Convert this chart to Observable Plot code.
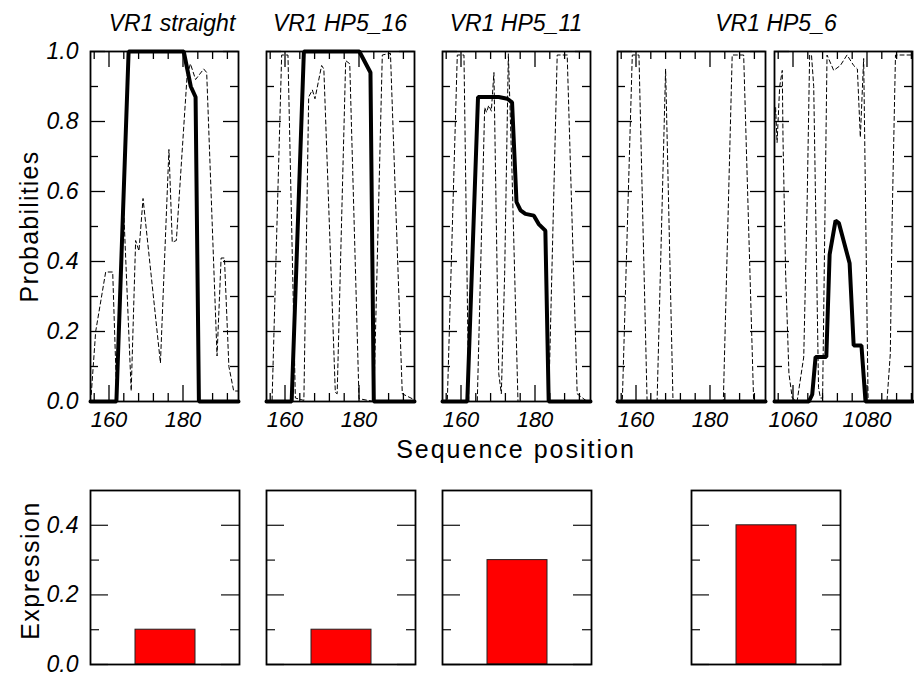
<!DOCTYPE html>
<html><head><meta charset="utf-8">
<script src="https://cdn.jsdelivr.net/npm/d3@7"></script>
<script src="https://cdn.jsdelivr.net/npm/@observablehq/plot@0.6"></script>
<style>
body{margin:0;background:#fff;}
#fig{position:relative;width:914px;height:675px;overflow:hidden;background:#fff;font-family:"Liberation Sans",Arial,sans-serif;}
#fig svg{position:absolute;}
.lbl{position:absolute;white-space:nowrap;color:#000;line-height:1;}
</style></head><body><div id="fig"></div>
<script>
// ---------------- data ----------------
const panelTitles = ["VR1 straight", "VR1 HP5_16", "VR1 HP5_11", "VR1 HP5_6"];
const xDomains = [[155, 195], [155, 195], [155, 195], [155, 195], [1055, 1092.3]];
const xMajorTicks = [[160, 180], [160, 180], [160, 180], [160, 180], [1060, 1080]];
const xMinorTicks = [
  [156, 164, 168, 172, 176, 184, 188, 192],
  [156, 164, 168, 172, 176, 184, 188, 192],
  [156, 164, 168, 172, 176, 184, 188, 192],
  [156, 164, 168, 172, 176, 184, 188, 192],
  [1056, 1064, 1068, 1072, 1076, 1084, 1088, 1092]
];
const probMajorTicks = [0, 0.2, 0.4, 0.6, 0.8, 1.0];
const probMinorTicks = [0.1, 0.3, 0.5, 0.7, 0.9];

// panel 1: VR1 straight
const p1ThickPos  = [155, 162, 165.3, 180.2, 182.1, 183.4, 184.3, 195];
const p1ThickProb = [0, 0, 1, 1, 0.9, 0.87, 0, 0];
const p1DashPos  = [155.2, 156.4, 159.1, 161.0, 162.0, 164.0, 166.0, 167.2, 168.1, 169.2, 173.9, 176.2, 177.1, 178.2, 181.1, 182.0, 183.4, 185.6, 186.4, 189.2, 190.3, 191.2, 192.4, 193.7, 195.0];
const p1DashProb = [0.02, 0.20, 0.37, 0.37, 0.04, 0.54, 0.03, 0.46, 0.43, 0.58, 0.11, 0.72, 0.455, 0.46, 0.93, 0.965, 0.92, 0.95, 0.94, 0.13, 0.41, 0.41, 0.10, 0.03, 0.03];

// panel 2: VR1 HP5_16
const p2ThickPos  = [155, 161.8, 165.1, 180.1, 183.1, 184.0, 195];
const p2ThickProb = [0, 0, 1, 1, 0.94, 0, 0];
const p2DashPos  = [155, 156.5, 159.1, 160.8, 162.8, 165.1, 166.4, 167.4, 168.1, 169.9, 170.5, 173.6, 174.1, 176.4, 177.5, 180.0, 184.0, 186.3, 188.5, 191.7, 194.4, 195];
const p2DashProb = [0, 0, 0.99, 0.99, 0.01, 0.003, 0.87, 0.89, 0.865, 0.96, 0.95, 0.026, 0.022, 0.974, 0.965, 0.008, 0, 0.99, 0.995, 0.022, 0.008, 0.008];

// panel 3: VR1 HP5_11
const p3ThickPos  = [155, 161.7, 164.6, 170.2, 172.5, 173.8, 175.0, 176.1, 177.4, 179.7, 181.0, 182.8, 183.7, 195];
const p3ThickProb = [0, 0, 0.87, 0.87, 0.865, 0.855, 0.57, 0.546, 0.536, 0.531, 0.507, 0.488, 0, 0];
const p3DashPos  = [155, 156.3, 159.0, 160.8, 162.1, 164.4, 166.4, 166.9, 167.5, 168.2, 168.9, 170.2, 170.9, 171.8, 172.8, 173.8, 175.4, 183.7, 186.0, 188.7, 191.4, 194.1, 195];
const p3DashProb = [0, 0, 0.99, 0.99, 0, 0, 0.84, 0.826, 0.846, 0.83, 0.94, 0.08, 0.022, 0.365, 0.993, 0.65, 0, 0, 0.99, 0.99, 0.022, 0, 0];

// panel 4: VR1 HP5_6 (first window)
const p4ThickPos  = [155, 195];
const p4ThickProb = [0, 0];
const p4DashPos  = [155, 156.3, 159.0, 160.8, 163.0, 165.7, 168.0, 170.0, 183.6, 186.0, 189.1, 191.8, 195];
const p4DashProb = [0, 0, 0.99, 0.99, 0, 0, 0.95, 0, 0, 0.99, 0.99, 0, 0];

// panel 5: VR1 HP5_6 (second window)
const p5ThickPos  = [1055, 1064.3, 1065.2, 1066.1, 1069.0, 1069.9, 1071.5, 1072.4, 1075.3, 1076.4, 1078.5, 1079.6, 1092.3];
const p5ThickProb = [0, 0, 0.02, 0.127, 0.127, 0.42, 0.517, 0.51, 0.395, 0.16, 0.16, 0, 0];
const p5DashPos  = [1055.0, 1055.3, 1055.7, 1056.4, 1057.1, 1057.3, 1058.0, 1058.9, 1059.8, 1061.1, 1062.9, 1063.8, 1064.5, 1065.0, 1065.6, 1066.9, 1067.4, 1068.0, 1069.2, 1071.0, 1072.8, 1074.6, 1076.4, 1077.4, 1078.2, 1079.1, 1080.3, 1085.4, 1086.3, 1086.8, 1087.7, 1092.3];
const p5DashProb = [0.80, 0.84, 0.74, 0.90, 0.946, 0.75, 0.37, 0.08, 0.01, 0.0, 0.127, 0.555, 0.99, 0.99, 0.9, 0.04, 0.01, 0.01, 0.99, 0.946, 0.96, 0.99, 0.96, 0.95, 0.755, 0.98, 0.0, 0.0, 0.136, 0.52, 0.99, 0.99];

// expression bars
const exprCategories = ["VR1 straight", "VR1 HP5_16", "VR1 HP5_11", "VR1 HP5_6"];
const exprValues = [0.1, 0.1, 0.3, 0.4];
const exprMajorTicks = [0, 0.2, 0.4];
const exprMinorTicks = [0.1, 0.3];

// ---------------- layout ----------------
const fig = document.getElementById("fig");
const M = 45;
const topLefts = [90, 266, 442, 617, 774];
const topWidths = [148, 148, 148, 148, 138];
const topY = 51, topH = 350;
const botLefts = [90, 266, 442, 691];
const botW = 149, botY = 490, botH = 174;
const tickFont = 23;

const thick = [[p1ThickPos, p1ThickProb], [p2ThickPos, p2ThickProb], [p3ThickPos, p3ThickProb], [p4ThickPos, p4ThickProb], [p5ThickPos, p5ThickProb]];
const dashed = [[p1DashPos, p1DashProb], [p2DashPos, p2DashProb], [p3DashPos, p3DashProb], [p4DashPos, p4DashProb], [p5DashPos, p5DashProb]];
const zip = ([a, b]) => a.map((v, i) => ({pos: v, p: b[i]}));
const svgStyle = {background: "none", overflow: "visible", fontFamily: "'Liberation Sans', Arial, sans-serif", fontStyle: "italic", color: "#000"};

function place(svg, left, top) {
  svg.style.left = (left - M) + "px";
  svg.style.top = (top - M) + "px";
  fig.appendChild(svg);
}

for (let i = 0; i < 5; i++) {
  const w = topWidths[i], h = topH;
  const marks = [
    Plot.line(zip(dashed[i]), {x: "pos", y: "p", stroke: "#000", strokeWidth: 1, strokeDasharray: "4,3", clip: true}),
    Plot.line(zip(thick[i]), {x: "pos", y: "p", stroke: "#000", strokeWidth: 4, strokeLinejoin: "miter"}),
    Plot.tickY(probMajorTicks, {y: d => d, insetRight: w - 15, stroke: "#000", strokeWidth: 1.3}),
    Plot.tickY(probMajorTicks, {y: d => d, insetLeft: w - 15, stroke: "#000", strokeWidth: 1.3}),
    Plot.tickY(probMinorTicks, {y: d => d, insetRight: w - 8, stroke: "#000", strokeWidth: 1.3}),
    Plot.tickY(probMinorTicks, {y: d => d, insetLeft: w - 8, stroke: "#000", strokeWidth: 1.3}),
    Plot.tickX(xMajorTicks[i], {x: d => d, insetBottom: h - 16, stroke: "#000", strokeWidth: 1.3}),
    Plot.tickX(xMajorTicks[i], {x: d => d, insetTop: h - 16, stroke: "#000", strokeWidth: 1.3}),
    Plot.tickX(xMinorTicks[i], {x: d => d, insetBottom: h - 8, stroke: "#000", strokeWidth: 1.3}),
    Plot.tickX(xMinorTicks[i], {x: d => d, insetTop: h - 8, stroke: "#000", strokeWidth: 1.3}),
    Plot.frame({stroke: "#000", strokeWidth: 1.8}),
    Plot.axisX(xMajorTicks[i], {anchor: "bottom", label: null, tickSize: 0, tickPadding: 10, fontSize: 22, fill: "#000", tickFormat: d => String(d)})
  ];
  if (i === 0) marks.push(Plot.axisY(probMajorTicks, {anchor: "left", label: null, tickSize: 0, tickPadding: 12, fontSize: tickFont, fill: "#000", tickFormat: d3.format(".1f")}));
  const svg = Plot.plot({
    width: w + 2 * M, height: h + 2 * M, margin: M,
    x: {domain: xDomains[i], axis: null},
    y: {domain: [0, 1], axis: null},
    style: svgStyle,
    marks
  });
  place(svg, topLefts[i], topY);
}

for (let i = 0; i < 4; i++) {
  const w = botW, h = botH;
  const marks = [
    Plot.barY([{c: exprCategories[i], v: exprValues[i]}], {x: "c", y: "v", fill: "#ff0000", stroke: "#222", strokeWidth: 1}),
    Plot.tickY(exprMajorTicks, {y: d => d, insetRight: w - 18, stroke: "#222", strokeWidth: 1.3}),
    Plot.tickY(exprMajorTicks, {y: d => d, insetLeft: w - 18, stroke: "#222", strokeWidth: 1.3}),
    Plot.tickY(exprMinorTicks, {y: d => d, insetRight: w - 9, stroke: "#222", strokeWidth: 1.3}),
    Plot.tickY(exprMinorTicks, {y: d => d, insetLeft: w - 9, stroke: "#222", strokeWidth: 1.3}),
    Plot.frame({stroke: "#000", strokeWidth: 1.8})
  ];
  if (i === 0) marks.push(Plot.axisY(exprMajorTicks, {anchor: "left", label: null, tickSize: 0, tickPadding: 12, fontSize: tickFont, fill: "#000", tickFormat: d3.format(".1f")}));
  const svg = Plot.plot({
    width: w + 2 * M, height: h + 2 * M, margin: M,
    x: {domain: [exprCategories[i]], padding: 0.426, axis: null},
    y: {domain: [0, 0.5], axis: null},
    style: svgStyle,
    marks
  });
  place(svg, botLefts[i], botY);
}

// ---------------- text ----------------
function label(text, cx, cy, size, opts = {}) {
  const d = document.createElement("div");
  d.className = "lbl";
  d.textContent = text;
  d.style.fontSize = size + "px";
  if (opts.italic) d.style.fontStyle = "italic";
  if (opts.spacing) d.style.letterSpacing = opts.spacing + "px";
  fig.appendChild(d);
  const r = d.getBoundingClientRect();
  d.style.left = (cx - r.width / 2) + "px";
  d.style.top = (cy - r.height / 2) + "px";
  if (opts.rotate) d.style.transform = "rotate(-90deg)";
  return d;
}
const titleCenters = [172, 340, 516, 776];
panelTitles.forEach((t, i) => label(t, titleCenters[i], 23, 23, {italic: true}));
label("Sequence position", 516, 449, 25, {spacing: 2});
label("Probabilities", 30, 226, 25, {spacing: 1.2, rotate: true});
label("Expression", 30, 570, 25, {spacing: 1.5, rotate: true});
</script></body></html>
